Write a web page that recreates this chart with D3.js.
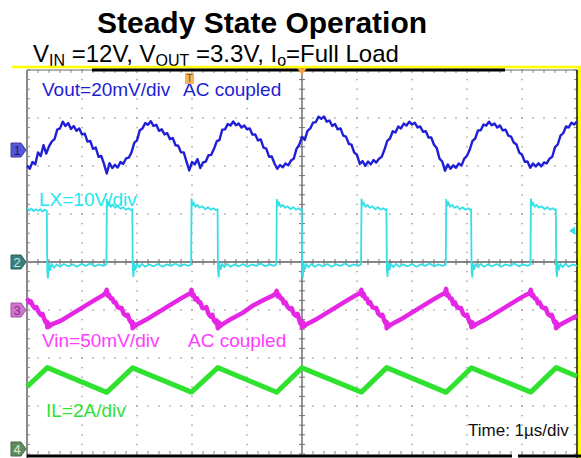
<!DOCTYPE html>
<html>
<head>
<meta charset="utf-8">
<script src="https://d3js.org/d3.v7.min.js"></script>
<style>
body { margin:0; background:#fff; }
svg { display:block; font-family:"Liberation Sans", Arial, sans-serif; }
</style>
</head>
<body>
<svg id="chart" width="581" height="458"></svg>
<script>
// scope screen: 10 x 1us horizontally, 8 divisions vertically
var timeDomain = [-5, 5];

// channel settings (units per div, ground marker offset in divs)
var channels = [
  {id: "1", name: "Vout", perDiv: 20, offset: 2.333, trace: "#1f1fd6", fill: "#5555d8", ink: "#1a1a80"},
  {id: "2", name: "LX",   perDiv: 10, offset: 0.0,   trace: "#35dfe6", fill: "#3a7f7f", ink: "#bfe8e8"},
  {id: "3", name: "Vin",  perDiv: 50, offset: -1.0,  trace: "#e526e5", fill: "#cf74cf", ink: "#8a2e8a"},
  {id: "4", name: "IL",   perDiv: 2,  offset: -4.0,  trace: "#2fe22f", fill: "#5f8c5f", ink: "#d8ecd8"}
];

// Vout (mV), sampled every 0.05us from -5us
var voutStart = -5, voutStep = 0.05;
var voutMv = [
 -6.5,-7.8,-5.0,-6.0,-1.0,-2.5,2.0,-1.5,1.5,3.5,
 4.5,8.5,9.0,11.8,10.0,11.2,8.8,10.0,8.0,9.0,
 6.5,6.8,3.5,3.8,0.5,1.0,-2.8,-2.5,-5.8,-9.8,
 -5.5,-7.5,-6.2,-7.3,-5.0,-5.8,-3.5,-3.2,-1.0,3.0,
 4.0,8.2,9.0,11.2,10.5,12.0,10.0,10.5,8.0,8.6,
 6.5,7.0,4.5,5.0,2.0,1.8,-1.0,-1.0,-4.8,-8.5,
 -5.0,-6.0,-3.8,-7.5,-5.2,-4.8,-2.2,-2.0,0.5,3.6,
 4.2,8.5,8.6,10.8,10.2,11.9,10.3,11.0,9.4,10.2,
 8.6,9.0,6.4,6.5,4.0,4.4,1.0,0.6,-2.8,-2.7,
 -5.6,-7.8,-6.3,-7.2,-5.6,-6.4,-4.4,-3.6,0.5,2.2,
 5.5,4.2,8.0,9.0,11.4,11.6,13.9,13.0,14.0,11.8,
 12.3,10.0,10.8,8.6,9.0,6.0,5.6,2.6,2.2,-1.1,
 -2.0,-5.8,-4.6,-6.6,-4.8,-6.0,-4.2,-5.2,-3.6,-2.8,
 0.2,3.8,4.8,7.8,7.3,9.8,9.0,11.0,10.2,11.8,
 10.6,11.4,9.4,9.8,7.6,7.8,5.2,5.2,2.2,0.8,
 -3.6,-4.8,-8.6,-6.0,-7.8,-6.4,-7.4,-5.6,-6.5,-3.6,
 -2.4,0.2,3.8,4.8,8.2,8.2,10.6,10.2,11.8,10.3,
 11.0,9.4,10.2,8.2,8.5,6.0,5.6,3.1,2.3,-1.1,
 -1.9,-4.9,-4.8,-7.4,-5.6,-6.9,-5.5,-6.8,-5.2,-5.6,
 -3.6,-2.8,1.2,2.3,6.0,7.0,9.8,9.4,11.4,10.6,
 12.0
];

// LX switch node [us, V]
var lxPoints = [
 [-5.00,11.3],[-4.96,10.7],[-4.92,11.1],[-4.88,10.6],[-4.84,11.0],[-4.80,10.7],[-4.76,11.0],[-4.72,10.5],[-4.68,10.9],[-4.64,10.6],
 [-4.632,-1.8],[-4.62,-3.3],[-4.60,-0.2],[-4.58,-1.7],[-4.55,-0.4],[-4.51,-1.2],[-4.46,-0.5],[-4.40,-1.0],[-4.33,-0.4],[-4.25,-0.9],[-4.17,-0.5],[-4.09,-1.0],[-4.01,-0.4],[-3.93,-0.8],[-3.85,-0.3],[-3.77,-0.9],[-3.69,-0.5],[-3.61,-0.8],[-3.556,-0.5],
 [-3.548,13.0],[-3.53,11.7],[-3.51,12.5],[-3.48,11.5],[-3.44,12.0],[-3.40,11.3],[-3.35,11.7],[-3.30,11.1],[-3.25,11.4],[-3.20,10.9],[-3.15,11.2],[-3.10,10.8],[-3.085,11.0],
 [-3.078,-1.5],[-3.065,-3.0],[-3.05,-0.3],[-3.03,-1.6],[-3.00,-0.4],[-2.96,-1.1],[-2.91,-0.4],[-2.85,-1.0],[-2.78,-0.5],[-2.70,-0.9],[-2.62,-0.4],[-2.54,-1.0],[-2.46,-0.5],[-2.38,-0.8],[-2.30,-0.3],[-2.22,-0.9],[-2.14,-0.5],[-2.06,-0.8],[-2.016,-0.5],
 [-2.008,13.1],[-1.99,11.8],[-1.97,12.4],[-1.94,11.5],[-1.90,11.9],[-1.86,11.3],[-1.81,11.6],[-1.76,11.0],[-1.71,11.4],[-1.66,10.9],[-1.61,11.2],[-1.56,10.8],[-1.535,11.0],
 [-1.528,-1.6],[-1.515,-3.1],[-1.50,-0.3],[-1.48,-1.5],[-1.45,-0.4],[-1.41,-1.1],[-1.36,-0.4],[-1.30,-1.0],[-1.23,-0.5],[-1.15,-0.9],[-1.07,-0.4],[-0.99,-1.0],[-0.91,-0.5],[-0.83,-0.8],[-0.75,-0.3],[-0.67,-0.9],[-0.59,-0.5],[-0.51,-0.8],[-0.466,-0.5],
 [-0.458,13.0],[-0.44,11.7],[-0.42,12.5],[-0.39,11.5],[-0.35,11.9],[-0.31,11.3],[-0.26,11.6],[-0.21,11.0],[-0.16,11.4],[-0.11,10.9],[-0.06,11.2],[-0.02,10.8],[-0.005,11.0],
 [0.003,-1.7],[0.015,-3.2],[0.03,-0.3],[0.05,-1.6],[0.08,-0.4],[0.12,-1.1],[0.17,-0.4],[0.23,-1.0],[0.30,-0.5],[0.38,-0.9],[0.46,-0.4],[0.54,-1.0],[0.62,-0.5],[0.70,-0.8],[0.78,-0.3],[0.86,-0.9],[0.94,-0.5],[1.02,-0.8],[1.074,-0.5],
 [1.082,13.1],[1.10,11.8],[1.12,12.4],[1.15,11.5],[1.19,11.9],[1.23,11.3],[1.28,11.6],[1.33,11.0],[1.38,11.4],[1.43,10.9],[1.48,11.2],[1.52,10.8],[1.535,11.0],
 [1.543,-1.5],[1.555,-3.0],[1.57,-0.3],[1.59,-1.6],[1.62,-0.4],[1.66,-1.1],[1.71,-0.4],[1.77,-1.0],[1.84,-0.5],[1.92,-0.9],[2.00,-0.4],[2.08,-1.0],[2.16,-0.5],[2.24,-0.8],[2.32,-0.3],[2.40,-0.9],[2.48,-0.5],[2.56,-0.8],[2.614,-0.5],
 [2.622,13.0],[2.64,11.7],[2.66,12.5],[2.69,11.5],[2.73,11.9],[2.77,11.3],[2.82,11.6],[2.87,11.0],[2.92,11.4],[2.97,10.9],[3.02,11.2],[3.06,10.8],[3.075,11.0],
 [3.083,-1.6],[3.095,-3.1],[3.11,-0.3],[3.13,-1.5],[3.16,-0.4],[3.20,-1.1],[3.25,-0.4],[3.31,-1.0],[3.38,-0.5],[3.46,-0.9],[3.54,-0.4],[3.62,-1.0],[3.70,-0.5],[3.78,-0.8],[3.86,-0.3],[3.94,-0.9],[4.02,-0.5],[4.10,-0.8],[4.154,-0.5],
 [4.162,13.1],[4.18,11.8],[4.20,12.4],[4.23,11.5],[4.27,11.9],[4.31,11.3],[4.36,11.6],[4.41,11.0],[4.46,11.4],[4.51,10.9],[4.56,11.2],[4.60,10.8],[4.615,11.0],
 [4.623,-1.5],[4.635,-3.0],[4.65,-0.3],[4.67,-1.6],[4.70,-0.4],[4.74,-1.1],[4.79,-0.4],[4.85,-1.0],[4.92,-0.5],[5.00,-0.8]
];

// Vin ripple [us, mV]
var vinPoints = [
 [-5.00,12],[-4.96,8],[-4.93,9],[-4.90,5],[-4.86,2],[-4.83,3],[-4.79,-2],[-4.75,-5],[-4.72,-4],[-4.69,-9],[-4.66,-13],[-4.64,-12],[-4.63,-18],
 [-4.61,-14],[-4.59,-17],[-4.55,-15],[-4.38,-11],[-4.18,-4],[-3.98,3],[-3.78,10],[-3.63,15],[-3.58,17],[-3.55,21],
 [-3.53,15],[-3.51,16],[-3.48,12],[-3.45,12],[-3.42,8],[-3.39,8],[-3.35,3],[-3.31,2],[-3.28,2],[-3.24,-4],[-3.20,-6],[-3.17,-5],[-3.14,-10],[-3.11,-13],[-3.09,-12],[-3.08,-19],
 [-3.06,-14],[-3.04,-17],[-3.00,-15],[-2.83,-10],[-2.63,-3],[-2.43,4],[-2.23,11],[-2.08,16],[-2.03,17],[-2.01,21],
 [-1.99,15],[-1.97,16],[-1.94,11],[-1.91,12],[-1.88,8],[-1.85,8],[-1.81,2],[-1.77,2],[-1.74,3],[-1.70,-4],[-1.66,-7],[-1.63,-5],[-1.60,-11],[-1.57,-13],[-1.55,-11],[-1.53,-19],
 [-1.51,-13],[-1.49,-17],[-1.45,-15],[-1.28,-9],[-1.08,-3],[-0.88,5],[-0.68,11],[-0.53,15],[-0.48,17],[-0.46,20],
 [-0.44,14],[-0.42,16],[-0.39,12],[-0.36,12],[-0.33,7],[-0.30,8],[-0.26,3],[-0.22,1],[-0.19,2],[-0.15,-4],[-0.11,-6],[-0.08,-4],[-0.05,-10],[-0.03,-14],[-0.01,-12],[0.00,-18],
 [0.02,-13],[0.04,-17],[0.08,-15],[0.25,-10],[0.45,-3],[0.65,4],[0.85,11],[1.00,16],[1.05,17],[1.08,21],
 [1.10,15],[1.12,17],[1.15,12],[1.18,12],[1.21,7],[1.24,8],[1.28,3],[1.32,2],[1.35,2],[1.39,-4],[1.43,-6],[1.46,-5],[1.49,-10],[1.51,-13],[1.53,-12],[1.54,-19],
 [1.56,-14],[1.58,-17],[1.62,-15],[1.79,-10],[1.99,-3],[2.19,4],[2.39,11],[2.54,16],[2.59,17],[2.62,22],
 [2.64,15],[2.66,16],[2.69,12],[2.72,12],[2.75,6],[2.78,8],[2.82,3],[2.86,2],[2.89,2],[2.93,-4],[2.97,-6],[3.00,-5],[3.03,-10],[3.05,-13],[3.07,-12],[3.08,-18],
 [3.10,-13],[3.12,-17],[3.16,-15],[3.33,-10],[3.53,-3],[3.73,4],[3.93,11],[4.08,16],[4.13,17],[4.16,21],
 [4.18,15],[4.20,16],[4.23,12],[4.26,12],[4.29,7],[4.32,8],[4.36,3],[4.40,2],[4.43,2],[4.47,-4],[4.51,-6],[4.54,-5],[4.57,-10],[4.59,-13],[4.61,-12],[4.62,-19],
 [4.64,-14],[4.66,-17],[4.70,-15],[4.87,-10],[5.00,-6]
];

// inductor current [us, A]
var ilPoints = [
 [-5.00,2.80],[-4.63,3.60],[-3.55,2.57],[-3.08,3.59],[-2.01,2.58],[-1.53,3.60],[-0.46,2.57],
 [0.00,3.59],[1.08,2.58],[1.54,3.60],[2.62,2.57],[3.08,3.59],[4.16,2.58],[4.62,3.60],[5.00,3.24]
];

var labels = [
  {ch: 0, text: "Vout=20mV/div", x: 42, y: 96},
  {ch: 0, text: "AC coupled", x: 183, y: 96},
  {ch: 1, text: "LX=10V/div", x: 39, y: 206},
  {ch: 2, text: "Vin=50mV/div", x: 42, y: 347},
  {ch: 2, text: "AC coupled", x: 188, y: 347},
  {ch: 3, text: "IL=2A/div", x: 46, y: 417}
];
var labelColors = ["#1e1ed4", "#22e8f0", "#ff3cff", "#30e230"];

var svg = d3.select("#chart");
var scrLeft = 27, scrRight = 577, scrTop = 70, scrBottom = 454;

var x = d3.scaleLinear().domain(timeDomain).range([scrLeft, scrRight]);
var div = d3.scaleLinear().domain([-4, 4]).range([scrBottom, scrTop]);
channels.forEach(function (c) {
  c.y = d3.scaleLinear()
    .domain([(-4 - c.offset) * c.perDiv, (4 - c.offset) * c.perDiv])
    .range([scrBottom, scrTop]);
});

// titles
svg.append("text").attr("x", 97).attr("y", 33)
  .attr("font-size", 30).attr("font-weight", "bold").text("Steady State Operation");

var sub = svg.append("text").attr("x", 33).attr("y", 62).attr("font-size", 24);
[["V", 0], ["IN", 1], [" =12V, V", 0], ["OUT", 1], [" =3.3V, I", 0], ["o", 1], ["=Full Load", 0]]
  .forEach(function (p, i, arr) {
    var prevSub = i > 0 && arr[i - 1][1];
    sub.append("tspan")
      .attr("font-size", p[1] ? 16 : 24)
      .attr("dy", p[1] ? 4 : (prevSub ? -4 : 0))
      .text(p[0]);
  });

// yellow frame
svg.append("line").attr("x1", 12).attr("x2", 581).attr("y1", 67).attr("y2", 67)
  .attr("stroke", "#ffff00").attr("stroke-width", 2.5);
svg.append("line").attr("x1", 579.5).attr("x2", 579.5).attr("y1", 66).attr("y2", 458)
  .attr("stroke", "#ffff00").attr("stroke-width", 3.5);

// grid
var g = svg.append("g");
var minorT = d3.range(-5, 5.001, 0.2);
var minorD = d3.range(-4, 4.001, 0.2);
d3.range(-4, 5).forEach(function (k) {
  if (k === 0) return;
  minorD.forEach(function (d) {
    g.append("rect").attr("x", x(k) - 0.7).attr("y", div(d) - 0.7)
      .attr("width", 1.4).attr("height", 1.4).attr("fill", "#9a9a9a");
  });
});
d3.range(-3, 4).forEach(function (k) {
  if (k === 0) return;
  minorT.forEach(function (t) {
    g.append("rect").attr("x", x(t) - 0.7).attr("y", div(k) - 0.7)
      .attr("width", 1.4).attr("height", 1.4).attr("fill", "#9a9a9a");
  });
});
// center cross with ticks
g.append("line").attr("x1", x(0)).attr("x2", x(0)).attr("y1", scrTop).attr("y2", scrBottom)
  .attr("stroke", "#5e5e5e").attr("stroke-width", 1.3);
g.append("line").attr("x1", scrLeft).attr("x2", scrRight).attr("y1", div(0)).attr("y2", div(0))
  .attr("stroke", "#5e5e5e").attr("stroke-width", 1.3);
minorD.forEach(function (d) {
  g.append("line").attr("x1", x(0) - 3).attr("x2", x(0) + 3).attr("y1", div(d)).attr("y2", div(d))
    .attr("stroke", "#6e6e6e");
  g.append("line").attr("x1", scrLeft).attr("x2", scrLeft + 3).attr("y1", div(d)).attr("y2", div(d))
    .attr("stroke", "#888");
  g.append("line").attr("x1", scrRight - 3).attr("x2", scrRight).attr("y1", div(d)).attr("y2", div(d))
    .attr("stroke", "#888");
});
minorT.forEach(function (t) {
  g.append("line").attr("x1", x(t)).attr("x2", x(t)).attr("y1", div(0) - 3).attr("y2", div(0) + 3)
    .attr("stroke", "#6e6e6e");
  g.append("line").attr("x1", x(t)).attr("x2", x(t)).attr("y1", scrTop).attr("y2", scrTop + 3)
    .attr("stroke", "#888");
  g.append("line").attr("x1", x(t)).attr("x2", x(t)).attr("y1", scrBottom - 3).attr("y2", scrBottom)
    .attr("stroke", "#888");
});

// screen border
svg.append("line").attr("x1", scrLeft).attr("x2", scrRight).attr("y1", scrTop).attr("y2", scrTop)
  .attr("stroke", "#666").attr("stroke-width", 1);
svg.append("line").attr("x1", 92).attr("x2", 505).attr("y1", scrTop).attr("y2", scrTop)
  .attr("stroke", "#000").attr("stroke-width", 3);
svg.append("line").attr("x1", scrLeft).attr("x2", scrLeft).attr("y1", scrTop).attr("y2", 458)
  .attr("stroke", "#8a8a8a").attr("stroke-width", 2);
svg.append("line").attr("x1", scrRight).attr("x2", scrRight).attr("y1", scrTop).attr("y2", 458)
  .attr("stroke", "#111").attr("stroke-width", 1.5);
svg.append("line").attr("x1", scrLeft).attr("x2", 512).attr("y1", 456).attr("y2", 456)
  .attr("stroke", "#000").attr("stroke-width", 3);
svg.append("line").attr("x1", 518).attr("x2", 581).attr("y1", 456).attr("y2", 456)
  .attr("stroke", "#000").attr("stroke-width", 3);

// traces
function trace(ch, pts, width) {
  var c = channels[ch];
  var line = d3.line().x(function (d) { return x(d[0]); }).y(function (d) { return c.y(d[1]); });
  svg.append("path").datum(pts).attr("d", line)
    .attr("fill", "none").attr("stroke", c.trace).attr("stroke-width", width)
    .attr("stroke-linejoin", "round");
}
trace(3, ilPoints, 5);
trace(2, vinPoints, 4.5);
trace(1, lxPoints, 1.8);
trace(0, voutMv.map(function (v, i) { return [voutStart + i * voutStep, v]; }), 2.4);

// labels
labels.forEach(function (l) {
  svg.append("text").attr("x", l.x).attr("y", l.y).attr("font-size", 19)
    .attr("fill", labelColors[l.ch]).text(l.text);
});
svg.append("text").attr("x", 468).attr("y", 436).attr("font-size", 17)
  .attr("fill", "#111").text("Time: 1\u00b5s/div");

// ground markers on the left edge
channels.forEach(function (c) {
  var yy = Math.min(c.y(0), 449);
  var m = svg.append("g").attr("transform", "translate(0," + yy + ")");
  m.append("path").attr("d", "M11,-7 L21,-7 L26,0 L21,7 L11,7 Z")
    .attr("fill", c.fill).attr("stroke", d3.color(c.fill).darker(0.8)).attr("stroke-width", 1);
  m.append("text").attr("x", 17).attr("y", 5).attr("text-anchor", "middle")
    .attr("font-size", 13).attr("fill", c.ink).text(c.id);
});

// trigger markers
svg.append("path").attr("d", "M" + (x(0) - 5) + "," + (scrTop - 2) + " L" + (x(0) + 5) + "," + (scrTop - 2) +
  " L" + x(0) + "," + (scrTop + 5) + " Z").attr("fill", "#f2a33a");
svg.append("rect").attr("x", 185).attr("y", 73).attr("width", 9).attr("height", 11).attr("fill", "#f5b35a");
svg.append("text").attr("x", 189.5).attr("y", 82).attr("text-anchor", "middle")
  .attr("font-size", 10).attr("fill", "#7a4a10").text("T");
var trigY = channels[1].y(6.5);
svg.append("path").attr("d", "M" + 569 + "," + trigY + " L" + 575 + "," + (trigY - 4) + " L" + 575 + "," + (trigY + 4) + " Z")
  .attr("fill", "#35dfe6");
</script>
</body>
</html>
